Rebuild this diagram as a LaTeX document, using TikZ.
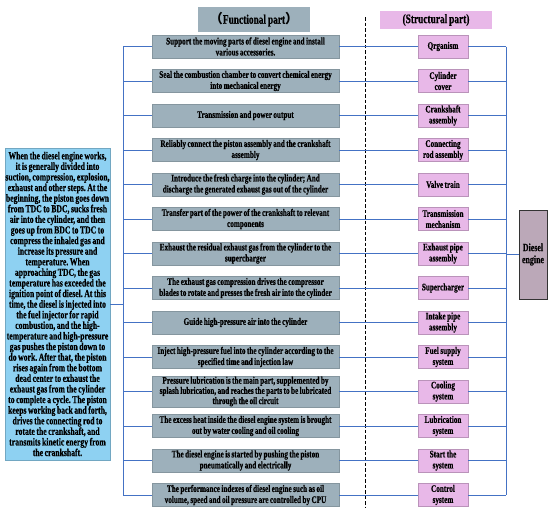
\documentclass[tikz,border=0pt]{standalone}
\usepackage{fontspec}
\setmainfont{Liberation Serif}[FakeStretch=0.72,WordSpace=0.8,BoldFeatures={FakeBold=0.6}]
\newfontfamily\cjk{Noto Sans CJK SC}
\usetikzlibrary{positioning}
\definecolor{funcgray}{RGB}{157,176,187}
\definecolor{strucpink}{RGB}{232,184,232}
\definecolor{processblue}{RGB}{142,209,242}
\definecolor{dieselgray}{RGB}{187,168,184}
\definecolor{busblue}{RGB}{68,114,196}
\tikzset{busline/.style={draw=busblue, line width=0.8pt}}
\tikzset{sepline/.style={draw=black, line width=1pt, dash pattern=on 3.5pt off 2pt}}
\frenchspacing

\begin{document}
\begin{tikzpicture}[x=1pt,y=-1pt,on grid,node distance=34.5pt,
   font=\bfseries\fontsize{10}{11}\selectfont]
\tikzstyle{funcbox} = [rectangle, fill=funcgray, draw=funcgray!85!black, very thin, minimum width=187pt, minimum height=23pt, align=center, inner sep=0.5pt]
\tikzstyle{strucbox} = [rectangle, fill=strucpink, draw=strucpink!80!black, very thin, minimum width=50pt, minimum height=23pt, align=center, inner sep=0.5pt]
\tikzstyle{headfunc} = [rectangle, fill=funcgray, minimum width=112pt, minimum height=25pt, font=\bfseries\fontsize{13}{15}\selectfont]
\tikzstyle{headstruc} = [rectangle, fill=strucpink, minimum width=112pt, minimum height=16pt, font=\bfseries\fontsize{13}{15}\selectfont]
\tikzstyle{processbox} = [rectangle, fill=processblue, draw=processblue!80!black, very thin, minimum width=105pt, minimum height=312pt, align=center, inner sep=0.5pt, font=\bfseries\fontsize{10.7}{10.6}\selectfont]
\tikzstyle{dieselbox} = [rectangle, fill=dieselgray, draw=black!80, thin, minimum width=28pt, minimum height=89pt, align=center, inner sep=1pt, font=\bfseries\fontsize{11}{12}\selectfont]

\useasboundingbox (0,0) rectangle (550,512);

% headers
\node[headfunc] (FUNCHEAD) at (254,19.5) {{\cjk （}Functional part{\cjk ）}};
\node[headstruc] (STRUCHEAD) at (436,20) {(Structural part)};

% functional part
\node[funcbox] (FUNC1) at (245.5,46.5)
   {Support the moving parts of diesel engine and install\\
    various accessories.};
\node[funcbox] (FUNC2) [below=of FUNC1]
   {Seal the combustion chamber to convert chemical energy\\
    into mechanical energy};
\node[funcbox] (FUNC3) [below=of FUNC2]
   {Transmission and power output};
\node[funcbox] (FUNC4) [below=of FUNC3]
   {Reliably connect the piston assembly and the crankshaft\\
    assembly};
\node[funcbox] (FUNC5) [below=of FUNC4]
   {Introduce the fresh charge into the cylinder; And\\
    discharge the generated exhaust gas out of the cylinder};
\node[funcbox] (FUNC6) [below=of FUNC5]
   {Transfer part of the power of the crankshaft to relevant\\
    components};
\node[funcbox] (FUNC7) [below=of FUNC6]
   {Exhaust the residual exhaust gas from the cylinder to the\\
    supercharger};
\node[funcbox] (FUNC8) [below=of FUNC7]
   {The exhaust gas compression drives the compressor\\
    blades to rotate and presses the fresh air into the cylinder};
\node[funcbox] (FUNC9) [below=of FUNC8]
   {Guide high-pressure air into the cylinder};
\node[funcbox] (FUNC10) [below=of FUNC9]
   {Inject high-pressure fuel into the cylinder according to the\\
    specified time and injection law};
\node[funcbox,font=\bfseries\fontsize{10}{10.2}\selectfont] (FUNC11) [below=of FUNC10]
   {Pressure lubrication is the main part, supplemented by\\
    splash lubrication, and reaches the parts to be lubricated\\
    through the oil circuit};
\node[funcbox] (FUNC12) [below=of FUNC11]
   {The excess heat inside the diesel engine system is brought\\
    out by water cooling and oil cooling};
\node[funcbox] (FUNC13) [below=of FUNC12]
   {The diesel engine is started by pushing the piston\\
    pneumatically and electrically};
\node[funcbox] (FUNC14) [below=of FUNC13]
   {The performance indexes of diesel engine such as oil\\
    volume, speed and oil pressure are controlled by CPU};

% structural part
\node[strucbox] (STRUC1) [right=197.5pt of FUNC1] {Qrganism};
\node[strucbox] (STRUC2) [right=197.5pt of FUNC2] {Cylinder\\cover};
\node[strucbox] (STRUC3) [right=197.5pt of FUNC3] {Crankshaft\\assembly};
\node[strucbox] (STRUC4) [right=197.5pt of FUNC4] {Connecting\\rod assembly};
\node[strucbox] (STRUC5) [right=197.5pt of FUNC5] {Valve train};
\node[strucbox] (STRUC6) [right=197.5pt of FUNC6] {Transmission\\mechanism};
\node[strucbox] (STRUC7) [right=197.5pt of FUNC7] {Exhaust pipe\\assembly};
\node[strucbox] (STRUC8) [right=197.5pt of FUNC8] {Supercharger};
\node[strucbox] (STRUC9) [right=197.5pt of FUNC9] {Intake pipe\\assembly};
\node[strucbox] (STRUC10) [right=197.5pt of FUNC10] {Fuel supply\\system};
\node[strucbox] (STRUC11) [right=197.5pt of FUNC11] {Cooling\\system};
\node[strucbox] (STRUC12) [right=197.5pt of FUNC12] {Lubrication\\system};
\node[strucbox] (STRUC13) [right=197.5pt of FUNC13] {Start the\\system};
\node[strucbox] (STRUC14) [right=197.5pt of FUNC14] {Control\\system};

% working process and engine
\node[processbox] (PROCESS) at (57.5,304)
   {When the diesel engine works,\\
    it is generally divided into\\
    suction, compression, explosion,\\
    exhaust and other steps. At the\\
    beginning, the piston goes down\\
    from TDC to BDC, sucks fresh\\
    air into the cylinder, and then\\
    goes up from BDC to TDC to\\
    compress the inhaled gas and\\
    increase its pressure and\\
    temperature. When\\
    approaching TDC, the gas\\
    temperature has exceeded the\\
    ignition point of diesel. At this\\
    time, the diesel is injected into\\
    the fuel injector for rapid\\
    combustion, and the high-\\
    temperature and high-pressure\\
    gas pushes the piston down to\\
    do work. After that, the piston\\
    rises again from the bottom\\
    dead center to exhaust the\\
    exhaust gas from the cylinder\\
    to complete a cycle. The piston\\
    keeps working back and forth,\\
    drives the connecting rod to\\
    rotate the crankshaft, and\\
    transmits kinetic energy from\\
    the crankshaft.};

\node[dieselbox] (DIESEL) at (533,254.5) {Diesel\\engine};

\coordinate (LBUS) at (123,0);
\coordinate (RBUS) at (506,0);
\coordinate (SEPTOP) at (365,17);
\coordinate (SEPBOT) at (365,507);

\path[sepline] (SEPTOP) -- (SEPBOT);

\path[busline] (LBUS |- FUNC1) -- (LBUS |- FUNC14);
\path[busline] (RBUS |- STRUC1) -- (RBUS |- STRUC14);
\path[busline] (PROCESS) -- (LBUS |- PROCESS);
\path[busline] (RBUS |- DIESEL) -- (DIESEL);

\path[busline] (LBUS |- FUNC1) -- (FUNC1) (FUNC1) -- (STRUC1) (STRUC1) -- (RBUS |- STRUC1);
\path[busline] (LBUS |- FUNC2) -- (FUNC2) (FUNC2) -- (STRUC2) (STRUC2) -- (RBUS |- STRUC2);
\path[busline] (LBUS |- FUNC3) -- (FUNC3) (FUNC3) -- (STRUC3) (STRUC3) -- (RBUS |- STRUC3);
\path[busline] (LBUS |- FUNC4) -- (FUNC4) (FUNC4) -- (STRUC4) (STRUC4) -- (RBUS |- STRUC4);
\path[busline] (LBUS |- FUNC5) -- (FUNC5) (FUNC5) -- (STRUC5) (STRUC5) -- (RBUS |- STRUC5);
\path[busline] (LBUS |- FUNC6) -- (FUNC6) (FUNC6) -- (STRUC6) (STRUC6) -- (RBUS |- STRUC6);
\path[busline] (LBUS |- FUNC7) -- (FUNC7) (FUNC7) -- (STRUC7) (STRUC7) -- (RBUS |- STRUC7);
\path[busline] (LBUS |- FUNC8) -- (FUNC8) (FUNC8) -- (STRUC8) (STRUC8) -- (RBUS |- STRUC8);
\path[busline] (LBUS |- FUNC9) -- (FUNC9) (FUNC9) -- (STRUC9) (STRUC9) -- (RBUS |- STRUC9);
\path[busline] (LBUS |- FUNC10) -- (FUNC10) (FUNC10) -- (STRUC10) (STRUC10) -- (RBUS |- STRUC10);
\path[busline] (LBUS |- FUNC11) -- (FUNC11) (FUNC11) -- (STRUC11) (STRUC11) -- (RBUS |- STRUC11);
\path[busline] (LBUS |- FUNC12) -- (FUNC12) (FUNC12) -- (STRUC12) (STRUC12) -- (RBUS |- STRUC12);
\path[busline] (LBUS |- FUNC13) -- (FUNC13) (FUNC13) -- (STRUC13) (STRUC13) -- (RBUS |- STRUC13);
\path[busline] (LBUS |- FUNC14) -- (FUNC14) (FUNC14) -- (STRUC14) (STRUC14) -- (RBUS |- STRUC14);
\end{tikzpicture}
\end{document}
